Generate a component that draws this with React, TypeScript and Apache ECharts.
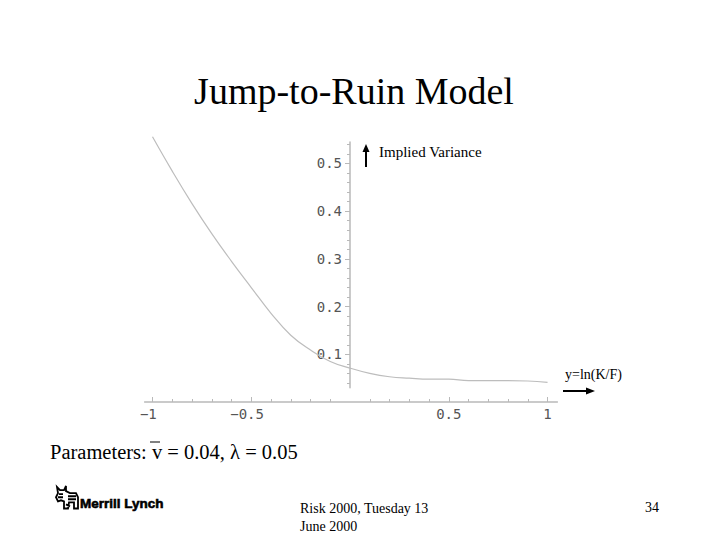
import React, { useEffect, useRef } from "react";
import * as echarts from "echarts";

// Data
const xs = [-1.0, -0.9, -0.8, -0.7, -0.6, -0.5, -0.4, -0.3, -0.2, -0.1, 0.0, 0.1, 0.2, 0.3, 0.4, 0.5, 0.6, 0.7, 0.8, 0.9, 1.0];
const ys = [0.556, 0.484, 0.416, 0.353, 0.295, 0.240, 0.186, 0.140, 0.109, 0.085, 0.071, 0.060, 0.053, 0.050, 0.048, 0.048, 0.045, 0.045, 0.045, 0.044, 0.041];

const xMinorTicks = [-1, -0.9, -0.8, -0.7, -0.6, -0.5, -0.4, -0.3, -0.2, -0.1, 0.1, 0.2, 0.3, 0.4, 0.5, 0.6, 0.7, 0.8, 0.9, 1];
const xMajorTicks = [-1, -0.5, 0.5, 1];
const xTickLabels = [-1, -0.5, 0.5, 1];
const yMinorTicks = [0.04, 0.06, 0.08, 0.1, 0.12, 0.14, 0.16, 0.18, 0.2, 0.22, 0.24, 0.26, 0.28, 0.3, 0.32, 0.34, 0.36, 0.38, 0.4, 0.42, 0.44, 0.46, 0.48, 0.5, 0.52, 0.54];
const yMajorTicks = [0.1, 0.2, 0.3, 0.4, 0.5];
const yTickLabels = [0.1, 0.2, 0.3, 0.4, 0.5];

const TITLE = "Jump-to-Ruin Model";
const Y_LABEL = "Implied Variance";
const X_LABEL = "y=ln(K/F)";
const PARAMS = "Parameters: v = 0.04, λ = 0.05";
const FOOTER_1 = "Risk 2000, Tuesday 13";
const FOOTER_2 = "June 2000";
const PAGE_NO = "34";
const BRAND = "Merrill Lynch";

const BULL_PATH =
  "M1 12 L3 8 L2 2 L5 5 L9 5 L11 1 L11 6 L15 8 L21 8 L23 12 L23 23 L19 23 L19 17 L14 17 L13 23 L9 23 L9 16 L6 15 L3 16 Z M4 9 L8 9 M3 12 L8 12 M13 11 L21 11 M13 14 L21 14 M11 19 L15 21";

let registered = false;
function ensureShapes() {
  if (registered) return;
  registered = true;
  echarts.graphic.registerShape("bull", echarts.graphic.extendPath(BULL_PATH, {}) as any);
}

const AXIS_GRAY = "#b9b9b9";
const LABEL_GRAY = "#555555";
const MONO = "'DejaVu Sans Mono', 'Liberation Mono', monospace";
const SERIF = "'Liberation Serif', 'Times New Roman', serif";

function fmtX(v: number) {
  if (v < 0) return "\u2212" + String(Math.abs(v)) + "{sp|}";
  return String(v);
}

export default function App() {
  const ref = useRef<HTMLDivElement>(null);
  useEffect(() => {
    if (!ref.current) return;
    ensureShapes();
    const chart = echarts.init(ref.current, undefined, { renderer: "svg" });
    const data = xs.map((x, i) => [x, ys[i]]);
    const option: any = {
      animation: false,
      backgroundColor: "#ffffff",
      grid: [
        { left: 144.6, width: 412.8, top: 134.9, height: 267.1 },
        { left: 350, width: 100, top: 142, height: 245.7 },
      ],
      xAxis: [
        {
          gridIndex: 0,
          type: "value",
          min: -1.04,
          max: 1.05,
          axisLine: { show: true, onZero: false, lineStyle: { color: AXIS_GRAY, width: 1.5 } },
          axisTick: { show: true, inside: true, length: 3, customValues: xMinorTicks, lineStyle: { color: AXIS_GRAY } },
          axisLabel: {
            show: true,
            customValues: xTickLabels,
            margin: 5,
            color: LABEL_GRAY,
            fontFamily: MONO,
            fontSize: 14,
            formatter: (v: number) => fmtX(v),
            rich: { sp: { width: 8.4 } },
          },
          splitLine: { show: false },
        },
        {
          gridIndex: 0,
          type: "value",
          position: "bottom",
          offset: 0,
          min: -1.04,
          max: 1.05,
          axisLine: { show: false },
          axisTick: { show: true, inside: true, length: 5, customValues: xMajorTicks, lineStyle: { color: AXIS_GRAY } },
          axisLabel: { show: false },
          splitLine: { show: false },
        },
        {
          gridIndex: 1,
          type: "value",
          min: 0,
          max: 1,
          show: false,
        },
      ],
      yAxis: [
        {
          gridIndex: 0,
          type: "value",
          min: 0,
          max: 0.56,
          show: false,
        },
        {
          gridIndex: 1,
          type: "value",
          position: "left",
          min: 0.03,
          max: 0.545,
          axisLine: { show: true, onZero: false, lineStyle: { color: AXIS_GRAY, width: 1.5 } },
          axisTick: { show: true, inside: false, length: 3, customValues: yMinorTicks, lineStyle: { color: AXIS_GRAY } },
          axisLabel: {
            show: true,
            customValues: yTickLabels,
            margin: 8,
            color: LABEL_GRAY,
            fontFamily: MONO,
            fontSize: 14,
            formatter: (v: number) => v.toFixed(1),
          },
          splitLine: { show: false },
        },
        {
          gridIndex: 1,
          type: "value",
          position: "left",
          offset: 0,
          min: 0.03,
          max: 0.545,
          axisLine: { show: false },
          axisTick: { show: true, inside: false, length: 5, customValues: yMajorTicks, lineStyle: { color: AXIS_GRAY } },
          axisLabel: { show: false },
          splitLine: { show: false },
        },
      ],
      series: [
        {
          type: "line",
          xAxisIndex: 0,
          yAxisIndex: 0,
          data,
          smooth: 0.45,
          symbol: "none",
          lineStyle: { color: "#bdbdbd", width: 1.2 },
        },
      ],
      graphic: [
        {
          type: "text",
          x: 354,
          y: 91,
          style: { text: TITLE, font: `38px ${SERIF}`, fill: "#000", align: "center", verticalAlign: "middle" },
        },
        // vertical arrow + label
        { type: "line", shape: { x1: 366, y1: 167, x2: 366, y2: 151 }, style: { stroke: "#000", lineWidth: 2 } },
        { type: "polygon", shape: { points: [[362.5, 152], [369.5, 152], [366, 144]] }, style: { fill: "#000" } },
        {
          type: "text",
          x: 379,
          y: 152,
          style: { text: Y_LABEL, font: `15px ${SERIF}`, fill: "#000", align: "left", verticalAlign: "middle" },
        },
        // horizontal arrow + label
        {
          type: "text",
          x: 565,
          y: 374,
          style: { text: X_LABEL, font: `14px ${SERIF}`, fill: "#000", align: "left", verticalAlign: "middle" },
        },
        { type: "line", shape: { x1: 563, y1: 391, x2: 588, y2: 391 }, style: { stroke: "#000", lineWidth: 2 } },
        { type: "polygon", shape: { points: [[586, 387.5], [586, 394.5], [595, 391]] }, style: { fill: "#000" } },
        // parameters
        {
          type: "text",
          x: 50,
          y: 452,
          style: { text: PARAMS, font: `20.5px ${SERIF}`, fill: "#000", align: "left", verticalAlign: "middle" },
        },
        { type: "line", shape: { x1: 150, y1: 442, x2: 160, y2: 442 }, style: { stroke: "#000", lineWidth: 1 } },
        // logo
        { type: "bull", x: 55, y: 485, scaleX: 1, scaleY: 1.02, style: { fill: "none", stroke: "#000", lineWidth: 1.8 } },
        {
          type: "text",
          x: 80,
          y: 503,
          style: {
            text: BRAND,
            font: `900 13.5px 'Liberation Sans', Arial, sans-serif`,
            fill: "#000",
            stroke: "#000",
            lineWidth: 0.6,
            align: "left",
            verticalAlign: "middle",
          },
        },
        // footer
        {
          type: "text",
          x: 300,
          y: 508,
          style: { text: FOOTER_1, font: `14px ${SERIF}`, fill: "#000", align: "left", verticalAlign: "middle" },
        },
        {
          type: "text",
          x: 300,
          y: 526,
          style: { text: FOOTER_2, font: `14px ${SERIF}`, fill: "#000", align: "left", verticalAlign: "middle" },
        },
        {
          type: "text",
          x: 645,
          y: 507,
          style: { text: PAGE_NO, font: `14px ${SERIF}`, fill: "#000", align: "left", verticalAlign: "middle" },
        },
      ],
    };
    chart.setOption(option);
    return () => chart.dispose();
  }, []);
  return (
    <div
      ref={ref}
      style={{ position: "fixed", left: 0, top: 0, width: 720, height: 540, background: "#fff" }}
    />
  );
}
